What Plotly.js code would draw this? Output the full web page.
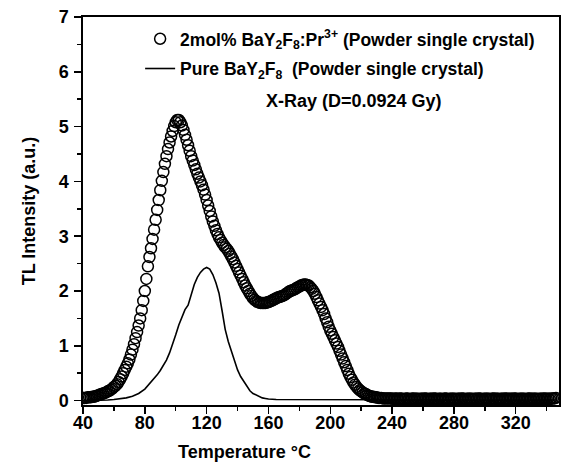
<!DOCTYPE html>
<html>
<head>
<meta charset="utf-8">
<script src="https://cdn.plot.ly/plotly-3.0.1.min.js"></script>
<style>
html,body{margin:0;padding:0;background:#fff;}
#chart{width:562px;height:474px;}
</style>
</head>
<body>
<div id="chart"></div>
<script>
// Temperature (°C) for the 2mol% doped sample (open circles)
var dopedTemp = [
 40,41,42,43,44,45,46,47,48,49,
 50,51,52,53,54,55,56,57,58,59,
 60,61,62,63,64,65,66,67,68,69,
 70,71,72,73,74,75,76,77,78,79,
 80,81,82,83,84,85,86,87,88,89,
 90,91,92,93,94,95,96,97,98,99,
 100,101,102,103,104,105,106,107,108,109,
 110,111,112,113,114,115,116,117,118,119,
 120,121,122,123,124,125,126,127,128,129,
 130,131,132,133,134,135,136,137,138,139,
 140,141,142,143,144,145,146,147,148,149,
 150,151,152,153,154,155,156,157,158,159,
 160,161,162,163,164,165,166,167,168,169,
 170,171,172,173,174,175,176,177,178,179,
 180,181,182,183,184,185,186,187,188,189,
 190,191,192,193,194,195,196,197,198,199,
 200,201,202,203,204,205,206,207,208,209,
 210,211,212,213,214,215,216,217,218,219,
 220,221,222,223,224,225,226,227,228,229,
 230,231,232,233,234,235,236,237,238,239,
 240,241,242,243,244,245,246,247,248,249,
 250,251,252,253,254,255,256,257,258,259,
 260,261,262,263,264,265,266,267,268,269,
 270,271,272,273,274,275,276,277,278,279,
 280,281,282,283,284,285,286,287,288,289,
 290,291,292,293,294,295,296,297,298,299,
 300,301,302,303,304,305,306,307,308,309,
 310,311,312,313,314,315,316,317,318,319,
 320,321,322,323,324,325,326,327,328,329,
 330,331,332,333,334,335,336,337,338,339,
 340,341,342,343,344,345,346
];
// TL intensity (a.u.) of the doped sample
var dopedTL = [
 0.05,0.05,0.05,0.06,0.06,0.06,0.07,0.07,0.08,0.09,
 0.10,0.11,0.12,0.13,0.14,0.15,0.17,0.18,0.20,0.22,
 0.25,0.27,0.30,0.34,0.39,0.44,0.50,0.56,0.62,0.68,
 0.75,0.84,0.93,1.03,1.14,1.25,1.37,1.50,1.65,1.82,
 2.00,2.22,2.45,2.62,2.78,2.95,3.12,3.30,3.48,3.66,
 3.84,4.01,4.17,4.32,4.46,4.59,4.71,4.82,4.92,5.01,
 5.08,5.12,5.12,5.08,5.02,4.94,4.85,4.76,4.66,4.56,
 4.46,4.38,4.30,4.22,4.14,4.07,4.00,3.93,3.85,3.76,
 3.66,3.56,3.46,3.36,3.27,3.19,3.11,3.04,2.98,2.93,
 2.88,2.84,2.80,2.77,2.73,2.68,2.63,2.58,2.52,2.46,
 2.40,2.34,2.28,2.22,2.16,2.10,2.05,2.00,1.95,1.91,
 1.87,1.84,1.82,1.80,1.79,1.78,1.78,1.78,1.78,1.79,
 1.80,1.81,1.82,1.84,1.85,1.87,1.88,1.89,1.90,1.91,
 1.92,1.94,1.96,1.98,2.00,2.01,2.02,2.03,2.05,2.07,
 2.08,2.10,2.11,2.12,2.12,2.11,2.10,2.07,2.04,2.00,
 1.95,1.89,1.83,1.77,1.71,1.65,1.58,1.50,1.43,1.35,
 1.28,1.22,1.16,1.10,1.04,0.98,0.91,0.84,0.77,0.70,
 0.63,0.56,0.49,0.43,0.38,0.33,0.29,0.25,0.22,0.19,
 0.17,0.15,0.13,0.12,0.10,0.09,0.08,0.07,0.07,0.06,
 0.06,0.05,0.05,0.05,0.04,0.04,0.04,0.04,0.04,0.04,
 0.04,0.03,0.04,0.04,0.03,0.04,0.04,0.03,0.03,0.04,
 0.04,0.03,0.03,0.04,0.04,0.03,0.04,0.03,0.03,0.04,
 0.03,0.04,0.04,0.03,0.03,0.04,0.03,0.04,0.04,0.03,
 0.03,0.04,0.03,0.03,0.04,0.04,0.03,0.03,0.04,0.03,
 0.04,0.03,0.03,0.04,0.03,0.04,0.04,0.03,0.03,0.04,
 0.03,0.04,0.03,0.03,0.04,0.03,0.04,0.04,0.03,0.03,
 0.04,0.03,0.04,0.03,0.03,0.04,0.04,0.03,0.04,0.03,
 0.03,0.04,0.03,0.04,0.04,0.03,0.03,0.04,0.03,0.04,
 0.04,0.03,0.03,0.04,0.03,0.04,0.03,0.03,0.04,0.04,
 0.03,0.04,0.03,0.04,0.03,0.03,0.04,0.03,0.04,0.04,
 0.03,0.04,0.03,0.04,0.04,0.04,0.05
];
// Temperature (°C) for the pure sample (solid line)
var pureTemp = [
 40,44,48,52,56,60,64,68,72,76,
 80,82,84,86,88,90,92,94,96,98,
 100,102,104,106,108,110,112,114,116,118,
 120,122,124,126,128,130,132,134,136,138,
 140,142,144,146,148,150,152,154,156,158,
 160,165,170,180,190,200,210,220,230,240,
 260,280,300,320,340,346
];
// TL intensity (a.u.) of the pure sample
var pureTL = [
 0.00,0.00,0.00,0.01,0.01,0.02,0.03,0.05,0.08,0.13,
 0.21,0.27,0.33,0.40,0.47,0.55,0.64,0.74,0.87,1.02,
 1.20,1.38,1.54,1.66,1.74,1.92,2.12,2.25,2.34,2.40,
 2.43,2.40,2.30,2.15,1.96,1.64,1.30,1.08,0.90,0.72,
 0.56,0.44,0.35,0.26,0.18,0.13,0.10,0.07,0.05,0.04,
 0.03,0.02,0.02,0.01,0.01,0.01,0.01,0.01,0.01,0.01,
 0.01,0.01,0.01,0.01,0.01,0.01
];
// Axis tick values and labels
var xTickVals = [40,80,120,160,200,240,280,320];
var xTickText = ['40','80','120','160','200','240','280','320'];
var yTickVals = [0,1,2,3,4,5,6,7];
var yTickText = ['0','1','2','3','4','5','6','7'];

var FONT = '"Liberation Sans", Arial, sans-serif';

var traces = [
  {
    x: dopedTemp, y: dopedTL,
    type: 'scatter', mode: 'markers',
    name: '2mol% BaY<sub>2</sub>F<sub>8</sub>:Pr<sup>3+</sup> (Powder single crystal)',
    legendgroup: 'a',
    marker: {symbol: 'circle-open', size: 11, color: '#000000', line: {color: '#000000', width: 1.5}}
  },
  {
    x: pureTemp, y: pureTL,
    type: 'scatter', mode: 'lines',
    name: 'Pure BaY<sub>2</sub>F<sub>8</sub>  (Powder single crystal)',
    legendgroup: 'b',
    line: {color: '#000000', width: 1.6}
  }
];

var layout = {
  width: 562, height: 474,
  margin: {l: 83, r: 3, t: 17, b: 69, pad: 0},
  paper_bgcolor: '#ffffff', plot_bgcolor: '#ffffff',
  font: {family: FONT, size: 17, color: '#000000'},
  showlegend: true,
  legend: {
    x: 0.12, y: 0.99, xanchor: 'left', yanchor: 'top',
    bgcolor: 'rgba(0,0,0,0)', borderwidth: 0,
    font: {family: FONT, size: 17.5, color: '#000000', weight: 'bold'},
    tracegroupgap: 4, itemwidth: 30
  },
  xaxis: {
    range: [40, 348], showgrid: false, zeroline: false,
    showline: true, linecolor: '#000000', linewidth: 1.6, mirror: true,
    ticks: 'outside', ticklen: 7, tickwidth: 1.5, tickcolor: '#000000',
    tickvals: xTickVals, ticktext: xTickText, ticklabelstandoff: -6,
    tickfont: {family: FONT, size: 18, color: '#000000', weight: 'bold'},
    minor: {tickvals: [60,100,140,180,220,260,300,340], ticks: 'outside', ticklen: 4, tickwidth: 1.5, tickcolor: '#000000'}
  },
  yaxis: {
    range: [-0.08, 7], showgrid: false, zeroline: false,
    showline: true, linecolor: '#000000', linewidth: 1.6, mirror: true,
    ticks: 'outside', ticklen: 7, tickwidth: 1.5, tickcolor: '#000000',
    tickvals: yTickVals, ticktext: yTickText, ticklabelstandoff: 2,
    tickfont: {family: FONT, size: 18, color: '#000000', weight: 'bold'},
    minor: {tickvals: [0.5,1.5,2.5,3.5,4.5,5.5,6.5], ticks: 'outside', ticklen: 4, tickwidth: 1.5, tickcolor: '#000000'},
    title: {text: 'TL Intensity (a.u.)', standoff: 18, font: {family: FONT, size: 18, color: '#000000', weight: 'bold'}}
  },
  annotations: [
    {
      text: 'Temperature °C', xref: 'paper', yref: 'paper',
      x: 0.34, y: -0.121, xanchor: 'center', yanchor: 'middle', showarrow: false,
      font: {family: FONT, size: 18, color: '#000000', weight: 'bold'}
    },
    {
      text: 'X-Ray (D=0.0924 Gy)', xref: 'paper', yref: 'paper',
      x: 0.57, y: 0.783, xanchor: 'center', yanchor: 'middle', showarrow: false,
      font: {family: FONT, size: 18, color: '#000000', weight: 'bold'}
    }
  ]
};

Plotly.newPlot('chart', traces, layout, {displayModeBar: false, staticPlot: true});
</script>
</body>
</html>
